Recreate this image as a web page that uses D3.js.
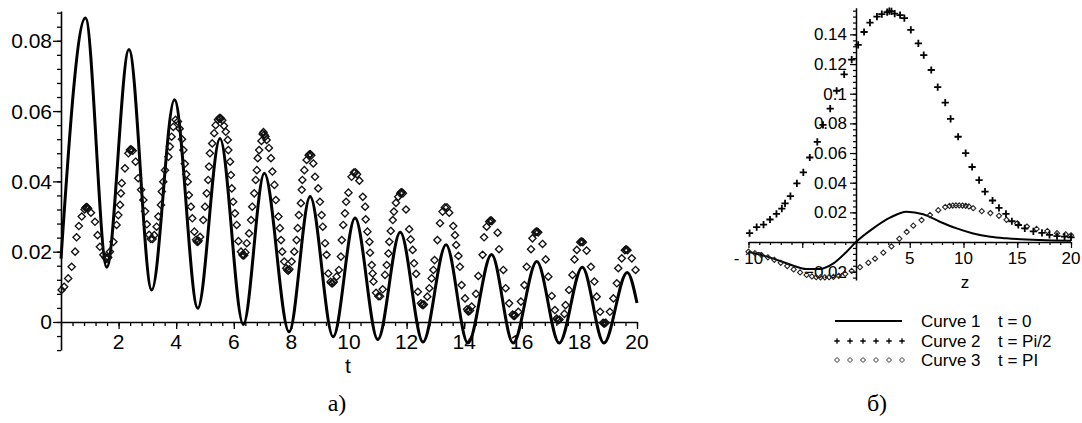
<!DOCTYPE html>
<html>
<head>
<meta charset="utf-8">
<script src="https://cdn.jsdelivr.net/npm/d3@7"></script>
<style>
  html, body { margin: 0; padding: 0; background: #fff; }
  svg { display: block; }
  text { font-family: "Liberation Sans", Arial, sans-serif; fill: #000; }
  .cap { font-family: "Liberation Serif", "Times New Roman", serif; }
</style>
</head>
<body>
<svg id="chart" width="1082" height="423"></svg>
<script>
// ---------- panel а): amplitude versus t ----------
// solid curve: turning points (extrema) of the oscillation
const waveT = [0, 0.85, 1.59, 2.36, 3.15, 3.94, 4.75, 5.52, 6.33, 7.06, 7.92, 8.65, 9.45,
  10.21, 11.0, 11.78, 12.57, 13.37, 14.13, 14.95, 15.7, 16.52, 17.3, 18.1, 18.85, 19.66, 20];
const waveV = [0.018, 0.0865, 0.0156, 0.0775, 0.0091, 0.0632, 0.0039, 0.0522, -0.0007, 0.0423,
  -0.0028, 0.0357, -0.0042, 0.0296, -0.005, 0.0255, -0.0057, 0.022, -0.006, 0.0192, -0.006,
  0.0172, -0.006, 0.0156, -0.006, 0.0141, 0.0054];

// diamond series: sampled points
const dotsT = [0.02,0.11,0.25,0.37,0.49,0.54,0.62,0.72,0.82,0.85,0.88,0.91,0.94,1.04,1.18,1.27,1.35,1.47,1.55,1.58,1.61,1.64,1.70,1.82,1.93,1.99,
  2.05,2.08,2.11,2.22,2.34,2.39,2.42,2.45,2.49,2.59,2.68,2.78,2.86,2.92,2.98,3.06,3.12,3.18,3.24,3.32,3.38,3.47,3.50,3.55,3.61,3.73,3.78,3.84,3.90,3.98,
  4.06,4.12,4.20,4.25,4.30,4.35,4.40,4.44,4.51,4.56,4.63,4.69,4.72,4.75,4.78,4.83,4.94,5.00,5.06,5.11,5.14,5.17,5.25,5.32,5.37,5.45,5.49,5.52,5.55,5.60,
  5.66,5.72,5.79,5.81,5.87,5.90,5.93,5.98,6.04,6.10,6.16,6.25,6.30,6.33,6.36,6.40,6.45,6.53,6.60,6.64,6.71,6.76,6.80,6.83,6.88,6.96,7.00,7.03,7.06,7.10,
  7.14,7.22,7.29,7.34,7.41,7.46,7.55,7.60,7.64,7.68,7.75,7.82,7.86,7.89,7.93,8.01,8.10,8.18,8.22,8.26,8.33,8.36,8.38,8.45,8.53,8.60,8.63,8.66,8.69,8.76,
  8.82,8.93,8.99,9.05,9.09,9.17,9.22,9.28,9.36,9.40,9.43,9.47,9.57,9.65,9.72,9.75,9.80,9.86,9.90,9.98,10.09,10.17,10.22,10.28,10.36,10.48,10.56,10.58,
  10.64,10.71,10.73,10.79,10.82,10.85,10.94,11.02,11.08,11.17,11.25,11.31,11.37,11.40,11.45,11.52,11.56,11.63,11.71,11.78,11.81,11.84,11.87,11.98,
  12.09,12.14,12.21,12.26,12.33,12.39,12.50,12.54,12.57,12.60,12.72,12.79,12.87,12.93,12.97,13.07,13.16,13.25,13.33,13.40,13.48,13.62,13.68,13.72,
  13.80,13.85,13.91,14.03,14.10,14.13,14.16,14.20,14.26,14.41,14.49,14.64,14.69,14.78,14.87,14.90,14.93,14.96,15.16,15.21,15.36,15.44,15.56,15.68,
  15.71,15.74,15.77,15.88,15.97,16.09,16.17,16.32,16.37,16.47,16.50,16.53,16.57,16.72,16.83,16.92,17.04,17.15,17.21,17.24,17.27,17.31,17.48,17.52,
  17.64,17.76,17.83,17.91,18.03,18.06,18.09,18.12,18.25,18.40,18.52,18.60,18.72,18.82,18.85,18.88,18.91,19.06,19.18,19.30,19.35,19.47,19.58,19.61,
  19.64,19.67,19.82,19.95];
const dotsV = [.0091,.0100,.0124,.0157,.0200,.0241,.0273,.0300,.0320,.0325,.0327,.0326,.0323,.0311,.0285,.0247,.0214,.0191,.0183,.0180,.0181,.0184,.0200,.0228,.0276,.0304,
  .0333,.0366,.0395,.0437,.0480,.0489,.0491,.0490,.0487,.0456,.0409,.0376,.0347,.0315,.0278,.0248,.0236,.0236,.0247,.0271,.0300,.0333,.0371,.0399,.0432,.0470,.0499,.0527,.0555,.0575,
  .0570,.0550,.0520,.0489,.0450,.0420,.0399,.0361,.0328,.0295,.0257,.0234,.0229,.0228,.0231,.0242,.0290,.0328,.0366,.0404,.0442,.0480,.0508,.0537,.0560,.0575,.0579,.0581,.0579,.0574,
  .0558,.0541,.0518,.0489,.0456,.0418,.0380,.0342,.0309,.0276,.0230,.0200,.0191,.0189,.0190,.0198,.0224,.0252,.0290,.0328,.0366,.0404,.0432,.0466,.0489,.0515,.0535,.0540,.0533,.0528,
  .0518,.0495,.0466,.0428,.0390,.0347,.0300,.0267,.0233,.0200,.0172,.0153,.0148,.0146,.0150,.0172,.0200,.0233,.0267,.0304,.0338,.0376,.0404,.0432,.0461,.0474,.0477,.0477,.0474,.0451,
  .0413,.0380,.0342,.0304,.0271,.0224,.0191,.0138,.0114,.0110,.0110,.0114,.0129,.0148,.0186,.0233,.0276,.0309,.0342,.0368,.0413,.0425,.0426,.0420,.0402,.0356,.0328,.0292,
  .0257,.0228,.0197,.0162,.0138,.0115,.0083,.0073,.0073,.0093,.0134,.0162,.0195,.0228,.0259,.0290,.0314,.0339,.0356,.0366,.0369,.0369,.0366,.0320,
  .0264,.0235,.0205,.0167,.0137,.0086,.0053,.0049,.0048,.0050,.0072,.0096,.0124,.0148,.0176,.0233,.0281,.0314,.0326,.0326,.0311,.0273,.0247,.0219,
  .0188,.0157,.0105,.0067,.0036,.0031,.0030,.0033,.0044,.0080,.0131,.0191,.0241,.0271,.0285,.0288,.0289,.0287,.0254,.0207,.0148,.0096,.0053,.0021,
  .0018,.0017,.0019,.0029,.0058,.0105,.0157,.0207,.0238,.0255,.0257,.0257,.0255,.0222,.0178,.0129,.0074,.0034,.0010,.0006,.0005,.0007,.0023,.0048,
  .0091,.0134,.0178,.0205,.0227,.0229,.0229,.0227,.0203,.0157,.0115,.0072,.0029,-.0002,-.0004,-.0004,-.0002,.0029,.0067,.0110,.0153,.0181,.0204,.0206,
  .0206,.0204,.0181,.0148];

const aTickY = [0, 0.02, 0.04, 0.06, 0.08];
const aTickX = [2, 4, 6, 8, 10, 12, 14, 16, 18, 20];

// ---------- panel б): profiles versus z ----------
const curve1Z = [-10, -7.75, -6.2, -4.6, -3.4, -2.1, -0.87, 0, 1.6, 3.16, 4.7, 6.26, 7.8, 9.37, 10.9, 12.5, 14.0, 17.1, 20];
const curve1V = [-0.0065, -0.011, -0.015, -0.0182, -0.0182, -0.0144, -0.0065, 0, 0.0092, 0.0164, 0.0205, 0.0187, 0.0137, 0.0092, 0.0058, 0.0036, 0.0025, 0.0013, 0.0008];

const curve2Z = [-9.9,-9.24,-8.6,-8.0,-7.4,-6.9,-6.6,-6.1,-5.5,-4.9,-4.3,-3.6,-3.07,-2.4,-1.8,-1.1,-0.4,0.2,0.75,1.3,1.95,2.4,2.9,3.1,3.3,3.6,4.1,4.5,
  5.1,5.8,6.3,7.0,7.6,8.3,8.8,9.5,10.2,10.8,11.45,12.0,12.7,13.3,13.95,14.5,15.1,15.7,16.5,17.3,18.0,18.7,19.4,20];
const curve2V = [0.006,0.0100,0.0118,0.0152,0.019,0.0225,0.026,0.031,0.0395,0.047,0.057,0.0675,0.079,0.090,0.102,0.113,0.123,0.133,0.1416,0.148,0.152,0.1537,0.155,0.1557,0.1555,0.154,0.153,0.151,
  0.143,0.134,0.126,0.116,0.1045,0.094,0.083,0.071,0.060,0.0506,0.0418,0.034,0.028,0.023,0.019,0.014,0.0115,0.0092,0.0072,0.0062,0.0048,0.0040,0.0036,0.0032];

const curve3Z = [-10,-9.4,-8.8,-8.2,-7.6,-7.0,-6.4,-5.8,-5.2,-4.6,-4.1,-3.7,-3.3,-2.9,-2.5,-2.1,-1.6,-1.0,-0.4,0.37,1.15,1.77,2.54,3.3,4.03,4.72,5.33,
  6.1,6.88,7.65,8.3,8.7,9.0,9.3,9.6,9.9,10.2,10.5,10.9,11.7,12.5,13.3,14.0,15.0,15.9,16.8,17.8,18.7,19.5,20.0];
const curve3V = [-0.0065,-0.0075,-0.0088,-0.0103,-0.0120,-0.0140,-0.0162,-0.0185,-0.0205,-0.0222,-0.0232,-0.0237,-0.0238,-0.0238,-0.0237,-0.0235,-0.0228,-0.0215,-0.0195,-0.0170,-0.0140,-0.0112,-0.0072,-0.0030,0.0022,0.0068,0.0110,
  0.0148,0.0182,0.0215,0.0236,0.0243,0.0246,0.0247,0.0247,0.0246,0.0244,0.0240,0.0228,0.0208,0.0195,0.0177,0.0150,0.0126,0.0104,0.0088,0.0074,0.0060,0.0052,0.0045];

const bTickY = [-0.02, 0.02, 0.04, 0.06, 0.08, 0.1, 0.12, 0.14];
const bTickX = [-10, 5, 10, 15, 20];

const legendNames = ["Curve 1", "Curve 2", "Curve 3"];
const legendTimes = ["t = 0", "t = Pi/2", "t = PI"];
const captions = ["а)", "б)"];

// ---------- drawing ----------
const svg = d3.select("#chart");
const zip = (xs, ys) => xs.map((x, i) => [x, ys[i]]);
const diamond = r => `M0,${-r}L${r},0L0,${r}L${-r},0Z`;
const plus = r => `M${-r},0H${r}M0,${-r}V${r}`;

// panel а scales
const xA = d3.scaleLinear().domain([0, 20]).range([61, 637]);
const yA = d3.scaleLinear().domain([-0.008, 0.0885]).range([350.1, 10.9]);

const gA = svg.append("g");
// y axis: minor ticks every 0.004, major every 0.02
gA.append("g").attr("transform", `translate(${xA(0)},0)`)
  .call(d3.axisLeft(yA).tickValues(d3.range(-8, 89, 4).map(v => v / 1000)).tickSize(4).tickSizeOuter(0).tickFormat(""))
  .call(g => g.selectAll("line").attr("stroke-width", 1.3))
  .call(g => g.select(".domain").attr("stroke-width", 1.6));
gA.append("g").attr("transform", `translate(${xA(0)},0)`)
  .call(d3.axisLeft(yA).tickValues(aTickY).tickSize(8).tickFormat(""))
  .call(g => g.select(".domain").remove())
  .call(g => g.selectAll("line").attr("stroke-width", 1.3));
// x axis: minor ticks every 0.4
gA.append("g").attr("transform", `translate(0,${yA(0)})`)
  .call(d3.axisBottom(xA).tickValues(d3.range(0, 51).map(i => i * 0.4)).tickSize(4).tickSizeOuter(0).tickFormat(""))
  .call(g => g.selectAll("line").attr("stroke-width", 1.3))
  .call(g => g.select(".domain").attr("stroke-width", 1.6));
gA.append("g").attr("transform", `translate(0,${yA(0)})`)
  .call(d3.axisBottom(xA).tickValues(aTickX).tickSize(7).tickFormat(""))
  .call(g => g.select(".domain").remove())
  .call(g => g.selectAll("line").attr("stroke-width", 1.3));

gA.selectAll("text.ya").data(aTickY).join("text")
  .attr("x", 52).attr("y", d => yA(d) + 7.5)
  .attr("text-anchor", "end").attr("font-size", 21)
  .text(d => d === 0 ? "0" : d3.format(".2f")(d));
gA.selectAll("text.xa").data(aTickX).join("text")
  .attr("x", d => xA(d)).attr("y", 349)
  .attr("text-anchor", "middle").attr("font-size", 21)
  .text(d => d);
gA.append("text").attr("x", 348).attr("y", 373).attr("text-anchor", "middle").attr("font-size", 21).text("t");

gA.append("path")
  .datum(zip(waveT, waveV))
  .attr("fill", "none").attr("stroke", "#000").attr("stroke-width", 3)
  .attr("d", d3.line().x(d => xA(d[0])).y(d => yA(d[1])).curve(d3.curveMonotoneX));

gA.selectAll("path.dot").data(zip(dotsT, dotsV)).join("path")
  .attr("transform", d => `translate(${xA(d[0])},${yA(d[1])})`)
  .attr("d", diamond(3.6))
  .attr("fill", "none").attr("stroke", "#111").attr("stroke-width", 1.35);

// panel б scales
const xB = d3.scaleLinear().domain([-10, 20]).range([748.5, 1071]);
const yB = d3.scaleLinear().domain([-0.0256, 0.158]).range([280, 7.7]);

const gB = svg.append("g");
gB.append("g").attr("transform", `translate(${xB(0)},0)`)
  .call(d3.axisLeft(yB).tickValues(d3.range(-24, 157, 4).map(v => v / 1000)).tickSize(3).tickSizeOuter(0).tickFormat(""))
  .call(g => g.selectAll("line").attr("stroke-width", 1.2))
  .call(g => g.select(".domain").attr("stroke-width", 1.5));
gB.append("g").attr("transform", `translate(${xB(0)},0)`)
  .call(d3.axisLeft(yB).tickValues(d3.range(-20, 141, 20).map(v => v / 1000)).tickSize(6).tickFormat(""))
  .call(g => g.select(".domain").remove())
  .call(g => g.selectAll("line").attr("stroke-width", 1.2));
gB.append("g").attr("transform", `translate(0,${yB(0)})`)
  .call(d3.axisBottom(xB).tickValues(d3.range(-10, 21)).tickSize(3).tickSizeOuter(0).tickFormat(""))
  .call(g => g.selectAll("line").attr("stroke-width", 1.2))
  .call(g => g.select(".domain").attr("stroke-width", 1.5));
gB.append("g").attr("transform", `translate(0,${yB(0)})`)
  .call(d3.axisBottom(xB).tickValues(d3.range(-10, 21, 5)).tickSize(6).tickFormat(""))
  .call(g => g.select(".domain").remove())
  .call(g => g.selectAll("line").attr("stroke-width", 1.2));

gB.selectAll("text.yb").data(bTickY).join("text")
  .attr("x", 847).attr("y", d => yB(d) + 6)
  .attr("text-anchor", "end").attr("font-size", 17)
  .text(d => d3.format("")(+d.toFixed(2)));
gB.selectAll("text.xb").data(bTickX).join("text")
  .attr("x", d => xB(d)).attr("y", 264)
  .attr("text-anchor", "middle").attr("font-size", 17)
  .text(d => d < 0 ? "- " + Math.abs(d) : d);
gB.append("text").attr("x", 965).attr("y", 288).attr("text-anchor", "middle").attr("font-size", 17).text("z");

gB.append("path")
  .datum(zip(curve1Z, curve1V))
  .attr("fill", "none").attr("stroke", "#000").attr("stroke-width", 2)
  .attr("d", d3.line().x(d => xB(d[0])).y(d => yB(d[1])).curve(d3.curveMonotoneX));

gB.selectAll("path.c3").data(zip(curve3Z, curve3V)).join("path")
  .attr("transform", d => `translate(${xB(d[0])},${yB(d[1])})`)
  .attr("d", diamond(2.6))
  .attr("fill", "none").attr("stroke", "#222").attr("stroke-width", 1.1);

gB.selectAll("path.c2").data(zip(curve2Z, curve2V)).join("path")
  .attr("transform", d => `translate(${xB(d[0])},${yB(d[1])})`)
  .attr("d", plus(3.6))
  .attr("fill", "none").attr("stroke", "#000").attr("stroke-width", 1.8);

// legend
const legY = [321, 341, 360];
const legX = d3.range(6).map(i => 837 + i * 13);
const leg = svg.append("g");
leg.append("line").attr("x1", 835).attr("x2", 902).attr("y1", legY[0]).attr("y2", legY[0])
  .attr("stroke", "#000").attr("stroke-width", 2);
leg.selectAll("path.lp").data(legX).join("path")
  .attr("transform", d => `translate(${d},${legY[1]})`)
  .attr("d", plus(2.7)).attr("stroke", "#000").attr("stroke-width", 1.3).attr("fill", "none");
leg.selectAll("path.ld").data(legX).join("path")
  .attr("transform", d => `translate(${d},${legY[2]})`)
  .attr("d", diamond(2.5)).attr("stroke", "#333").attr("stroke-width", 1).attr("fill", "none");
leg.selectAll("text.ln").data(legendNames).join("text")
  .attr("x", 921).attr("y", (d, i) => legY[i] + 6).attr("font-size", 17).text(d => d);
leg.selectAll("text.lt").data(legendTimes).join("text")
  .attr("x", 998).attr("y", (d, i) => legY[i] + 6).attr("font-size", 17).text(d => d);

// captions
svg.selectAll("text.cap").data(captions).join("text")
  .attr("class", "cap")
  .attr("x", (d, i) => [337, 877][i]).attr("y", 411)
  .attr("text-anchor", "middle").attr("font-size", 24)
  .text(d => d);
</script>
</body>
</html>
